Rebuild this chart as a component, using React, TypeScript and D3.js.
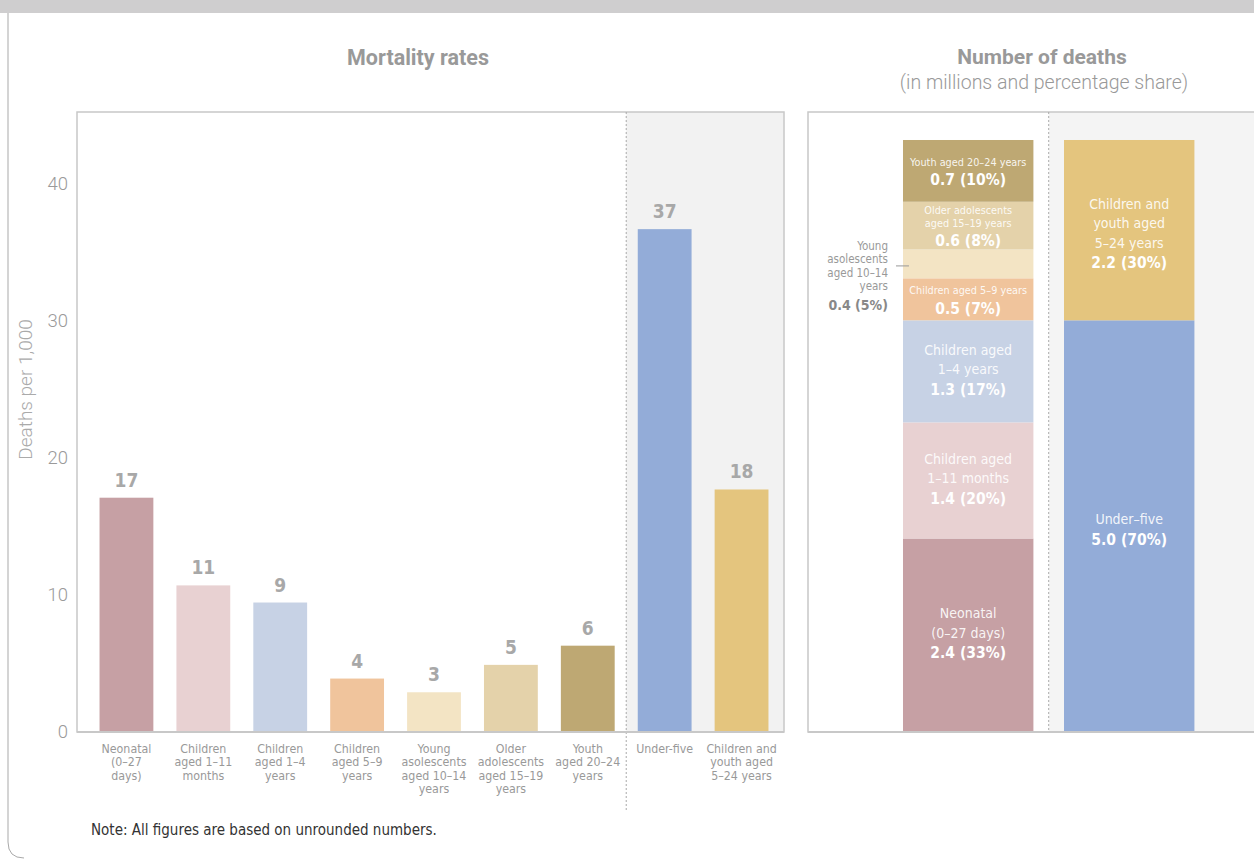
import * as d3 from 'd3';
import React from 'react';

// mortality rates (deaths per 1,000)
const rateCategories = [
  'neonatal', 'm1_11', 'y1_4', 'y5_9', 'y10_14', 'y15_19', 'y20_24', 'under5', 'y5_24',
];
const rateLabels = [
  ['Neonatal', '(0–27', 'days)'],
  ['Children', 'aged 1–11', 'months'],
  ['Children', 'aged 1–4', 'years'],
  ['Children', 'aged 5–9', 'years'],
  ['Young', 'asolescents', 'aged 10–14', 'years'],
  ['Older', 'adolescents', 'aged 15–19', 'years'],
  ['Youth', 'aged 20–24', 'years'],
  ['Under-five'],
  ['Children and', 'youth aged', '5–24 years'],
];
const rateValues = [17.1, 10.7, 9.45, 3.9, 2.9, 4.9, 6.3, 36.7, 17.7];
const rateColors = [
  '#c6a0a4', '#e8d1d2', '#c7d2e5', '#f0c49c', '#f3e4c4', '#e4d2aa', '#bea873', '#93acd8', '#e4c57e',
];
const rateTicks = [0, 10, 20, 30, 40];

// number of deaths (millions)
const partNames = ['neonatal', 'm1_11', 'y1_4', 'y5_9', 'y10_14', 'y15_19', 'y20_24'];
const partValues = [2.35, 1.41, 1.24, 0.51, 0.35, 0.58, 0.75];
const partColors = ['#c6a0a4', '#e8d1d2', '#c7d2e5', '#f0c49c', '#f3e4c4', '#e4d2aa', '#bea873'];
const partText = [
  { lines: ['Neonatal', '(0–27 days)'], value: '2.4 (33%)', big: true },
  { lines: ['Children aged', '1–11 months'], value: '1.4 (20%)', big: true },
  { lines: ['Children aged', '1–4 years'], value: '1.3 (17%)', big: true },
  { lines: ['Children aged 5–9 years'], value: '0.5 (7%)', big: false },
  null,
  { lines: ['Older adolescents', 'aged 15–19 years'], value: '0.6 (8%)', big: false },
  { lines: ['Youth aged 20–24 years'], value: '0.7 (10%)', big: false },
];
const outsideLines = ['Young', 'asolescents', 'aged 10–14', 'years'];
const outsideValue = '0.4 (5%)';

const groupValues = [5.0, 2.19];
const groupColors = ['#93acd8', '#e4c57e'];
const groupText = [
  { lines: ['Under–five'], value: '5.0 (70%)' },
  { lines: ['Children and', 'youth aged', '5–24 years'], value: '2.2 (30%)' },
];

const W = 1254;
const H = 861;
const cond = "'Liberation Sans Narrow', 'DejaVu Sans Condensed', 'Roboto', sans-serif";
const sans = "Roboto, 'Open Sans', sans-serif";
const border = '#c8c8c8';

const App: React.FC = () => {
  const top = 112;
  const base = 732;

  // left panel
  const x = d3.scaleBand<string>().domain(rateCategories).range([88, 780])
    .paddingInner(0.3).paddingOuter(0.15);
  const y = d3.scaleLinear().domain([0, 45.25]).range([base, top]);
  const divX = (x('y20_24')! + x.bandwidth() + x('under5')!) / 2;

  // right panel
  const xs = d3.scaleBand<string>().domain(['parts', 'groups']).range([872.4, 1225])
    .paddingInner(0.19).paddingOuter(0.19);
  const ys = d3.scaleLinear().domain([0, 7.53]).range([base, top]);
  const partEnds = Array.from(d3.cumsum(partValues));
  const groupEnds = Array.from(d3.cumsum(groupValues));
  const rDivX = (xs('parts')! + xs.bandwidth() + xs('groups')!) / 2;

  const blockText = (cx: number, cy: number, lines: string[], value: string, big: boolean) => {
    const lh = big ? 19.5 : 12.5;
    const vgap = big ? 20 : 18;
    const total = (lines.length - 1) * lh + vgap;
    const y0 = cy - total / 2;
    return (
      <g>
        {lines.map((l, i) => (
          <text key={i} x={cx} y={y0 + i * lh} dy="0.35em" textAnchor="middle"
            fontFamily={cond} fontSize={big ? 14 : 10.8} fill="#fff" fillOpacity={0.9}>{l}</text>
        ))}
        <text x={cx} y={y0 + (lines.length - 1) * lh + vgap} dy="0.35em" textAnchor="middle"
          fontFamily={cond} fontWeight="bold" fontSize={15.5} fill="#fff">{value}</text>
      </g>
    );
  };

  const s10 = ys(partEnds[3]);
  const e10 = ys(partEnds[4]);

  return (
    <svg width={W} height={H} style={{ position: 'absolute', left: 0, top: 0, display: 'block' }}>
      <rect width={W} height={H} fill="#fff" />
      {/* outer frame */}
      <rect x={0} y={0} width={W} height={13} fill="#cfcecf" />
      <path d={`M8,13 V842 Q8,858 24,858`} fill="none" stroke="#a9a9a9" strokeWidth={1} />

      {/* titles */}
      <text x={418} y={57} dy="0.35em" textAnchor="middle" fontFamily={sans} fontWeight="bold"
        fontSize={21.5} fill="#999">Mortality rates</text>
      <text x={1042} y={57} dy="0.35em" textAnchor="middle" fontFamily={sans} fontWeight="bold"
        fontSize={21} fill="#999">Number of deaths</text>
      <text x={1044} y={82} dy="0.35em" textAnchor="middle" fontFamily={sans} fontWeight={300}
        fontSize={19.5} fill="#999">(in millions and percentage share)</text>

      {/* left panel */}
      <rect x={divX} y={top} width={784 - divX} height={base - top} fill="#f2f2f2" />
      <rect x={77} y={top} width={784 - 77} height={base - top} fill="none" stroke={border} strokeWidth={1.5} />
      <line x1={divX} x2={divX} y1={top} y2={812} stroke="#aaa" strokeDasharray="2,2" />
      {rateTicks.map((t) => (
        <text key={t} x={68} y={y(t)} dy="0.35em" textAnchor="end" fontFamily={sans} fontWeight={300}
          fontSize={18.5} fill="#9a9a9a">{t}</text>
      ))}
      <text transform={`translate(25,${y(25)}) rotate(-90)`} dy="0.35em" textAnchor="middle"
        fontFamily={sans} fontWeight={300} fontSize={19} fill="#aaa">Deaths per 1,000</text>
      {rateCategories.map((c, i) => (
        <g key={c}>
          <rect x={x(c)} y={y(rateValues[i])} width={x.bandwidth()} height={base - y(rateValues[i])}
            fill={rateColors[i]} />
          <text x={x(c)! + x.bandwidth() / 2} y={y(rateValues[i]) - 11} textAnchor="middle"
            fontFamily={cond} fontWeight="bold" fontSize={19} fill="#a8a8a8">{Math.round(rateValues[i])}</text>
          {rateLabels[i].map((l, j) => (
            <text key={j} x={x(c)! + x.bandwidth() / 2} y={753 + j * 13.3} textAnchor="middle"
              fontFamily={cond} fontSize={12.3} fill="#999">{l}</text>
          ))}
        </g>
      ))}
      <line x1={77} x2={784} y1={base} y2={base} stroke={border} strokeWidth={2} />

      {/* right panel */}
      <rect x={rDivX} y={top} width={W - rDivX} height={base - top} fill="#f4f4f4" />
      <path d={`M${W + 2},${top} H808 V${base} H${W + 2}`} fill="none" stroke={border} strokeWidth={1.5} />
      <line x1={rDivX} x2={rDivX} y1={top} y2={base} stroke="#aaa" strokeDasharray="2,2" />
      {partNames.map((p, i) => {
        const y1 = ys(partEnds[i]);
        const y0 = ys(partEnds[i] - partValues[i]);
        const t = partText[i];
        return (
          <g key={p}>
            <rect x={xs('parts')} y={y1} width={xs.bandwidth()} height={y0 - y1} fill={partColors[i]} />
            {t && blockText(xs('parts')! + xs.bandwidth() / 2, (y0 + y1) / 2 + (t.big ? -2 : 0), t.lines, t.value, t.big)}
          </g>
        );
      })}
      {groupValues.map((v, i) => {
        const y1 = ys(groupEnds[i]);
        const y0 = ys(groupEnds[i] - v);
        const t = groupText[i];
        return (
          <g key={i}>
            <rect x={xs('groups')} y={y1} width={xs.bandwidth()} height={y0 - y1} fill={groupColors[i]} />
            {blockText(xs('groups')! + xs.bandwidth() / 2, (y0 + y1) / 2 + 3, t.lines, t.value, true)}
          </g>
        );
      })}
      {/* outside label for young adolescents */}
      <line x1={xs('parts')! - 7} x2={xs('parts')! + 6} y1={(s10 + e10) / 2 + 2} y2={(s10 + e10) / 2 + 2}
        stroke="#999" strokeWidth={1} />
      {outsideLines.map((l, i) => (
        <text key={i} x={888} y={(s10 + e10) / 2 - 18 + i * 13.3} dy="0.35em" textAnchor="end"
          fontFamily={cond} fontSize={11.5} fill="#999">{l}</text>
      ))}
      <text x={888} y={(s10 + e10) / 2 + 41} dy="0.35em" textAnchor="end" fontFamily={cond}
        fontWeight="bold" fontSize={14} fill="#888">{outsideValue}</text>
      <line x1={808} x2={W} y1={base} y2={base} stroke={border} strokeWidth={2} />

      <text x={91} y={835} fontFamily={cond} fontSize={15} fill="#333">
        Note: All figures are based on unrounded numbers.
      </text>
    </svg>
  );
};

export default App;
